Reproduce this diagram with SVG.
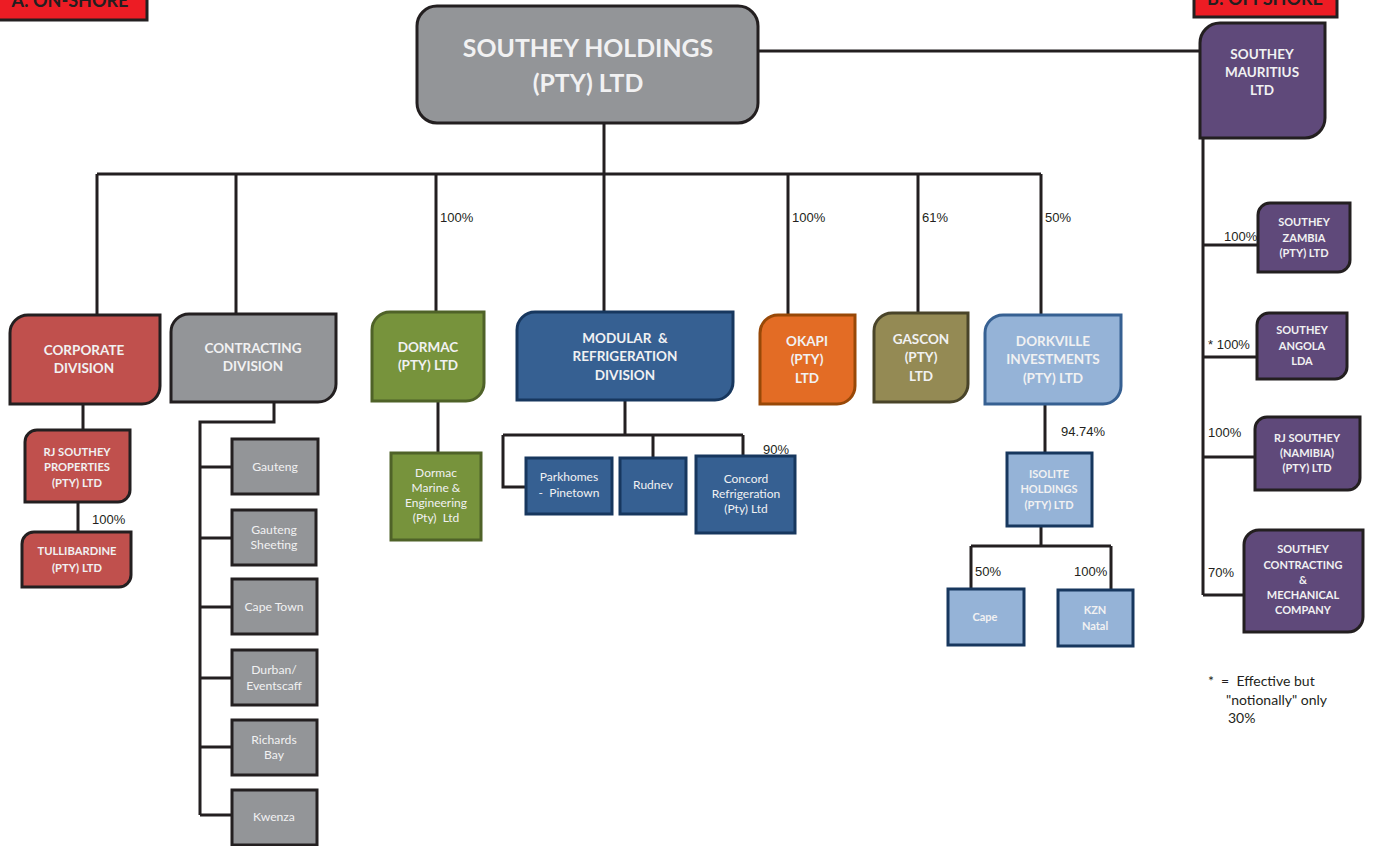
<svg xmlns="http://www.w3.org/2000/svg" width="1375" height="846" viewBox="0 0 1375 846">
<style>
.bg{fill:#ffffff}
.ln{fill:none;stroke:#231f20;stroke-width:3}
.t{font-family:Lato,"Open Sans","Liberation Sans",sans-serif;font-weight:bold;fill:#f1f1f2;text-anchor:middle}
.tr{font-family:Lato,"Open Sans","Liberation Sans",sans-serif;fill:#f1f1f2;text-anchor:middle;white-space:pre}
.p{font-family:"Liberation Sans",Arial,sans-serif;font-size:13px;fill:#231f20}
.f{font-family:Lato,"Open Sans","Liberation Sans",sans-serif;font-size:14px;fill:#231f20}
.lab{font-family:Lato,"Open Sans","Liberation Sans",sans-serif;font-weight:bold;font-size:18px;fill:#231f20;text-anchor:middle}
.gray{fill:#939598;stroke:#231f20;stroke-width:3}
.red{fill:#c0504d;stroke:#231f20;stroke-width:3}
.green{fill:#77933c;stroke:#4f6228;stroke-width:3}
.blue{fill:#366092;stroke:#17375e;stroke-width:3}
.orange{fill:#e36c25;stroke:#984807;stroke-width:3}
.olive{fill:#948a54;stroke:#494429;stroke-width:3}
.lblue{fill:#95b3d7;stroke:#366092;stroke-width:3}
.lblue2{fill:#95b3d7;stroke:#17375e;stroke-width:3}
.purple{fill:#5f497a;stroke:#231f20;stroke-width:3}
.tag{fill:#ed1c24;stroke:#231f20;stroke-width:3}
</style>
<rect class="bg" x="0" y="0" width="1375" height="846"/>

<g id="connectors">
  <path class="ln" d="M604,123 V313"/>
  <path class="ln" d="M97,174 H1041"/>
  <path class="ln" d="M97,174 V315 M236,174 V314 M436,174 V312 M788,174 V315 M918,174 V313 M1041,174 V315"/>
  <path class="ln" d="M758,51 H1200"/>
  <path class="ln" d="M1203,138 V595 M1203,245 H1258 M1203,357 H1257 M1203,457 H1255 M1203,595 H1244"/>
  <path class="ln" d="M83,404 V430 M78,502 V532"/>
  <path class="ln" d="M274,402 V422 H200 V815"/>
  <path class="ln" d="M200,467 H232 M200,538 H232 M200,607 H232 M200,678 H232 M200,747 H232 M200,815 H232"/>
  <path class="ln" d="M438,401 V453"/>
  <path class="ln" d="M625,400 V435 M503,435 H743 M503,435 V487 H527 M653,435 V458 M743,435 V457"/>
  <path class="ln" d="M1045,404 V453 M1041,526 V546 M971,546 H1111 M971,546 V589 M1111,546 V590"/>
</g>

<g id="label-onshore">
  <rect class="tag" x="-5" y="-12" width="152" height="32"/>
  <text class="lab" x="70" y="7">A: ON-SHORE</text>
</g>
<g id="label-offshore">
  <rect class="tag" x="1194" y="-12" width="143" height="29"/>
  <text class="lab" x="1265" y="5">B: OFFSHORE</text>
</g>

<g id="southey-holdings">
  <rect class="gray" x="417" y="6" width="341" height="117" rx="20"/>
  <text class="t" font-size="24.8" x="588" y="57">SOUTHEY HOLDINGS</text>
  <text class="t" font-size="24.8" x="588" y="92">(PTY) LTD</text>
</g>

<g id="southey-mauritius">
  <path class="purple" d="M1200,43 A20,20 0 0 1 1220,23 H1325 V118 A20,20 0 0 1 1305,138 H1200 Z"/>
  <text class="t" font-size="13.5" x="1262" y="59">SOUTHEY</text>
  <text class="t" font-size="13.5" x="1262" y="77">MAURITIUS</text>
  <text class="t" font-size="13.5" x="1262" y="95">LTD</text>
</g>

<g id="corporate-division">
  <path class="red" d="M10,333 A18,18 0 0 1 28,315 H160 V386 A18,18 0 0 1 142,404 H10 Z"/>
  <text class="t" font-size="13.5" x="84" y="355">CORPORATE</text>
  <text class="t" font-size="13.5" x="84" y="373">DIVISION</text>
</g>
<g id="contracting-division">
  <path class="gray" d="M171,332 A18,18 0 0 1 189,314 H336 V384 A18,18 0 0 1 318,402 H171 Z"/>
  <text class="t" font-size="13.5" x="253" y="353">CONTRACTING</text>
  <text class="t" font-size="13.5" x="253" y="371">DIVISION</text>
</g>
<g id="dormac">
  <path class="green" d="M372,330 A18,18 0 0 1 390,312 H484 V383 A18,18 0 0 1 466,401 H372 Z"/>
  <text class="t" font-size="13.5" x="428" y="352">DORMAC</text>
  <text class="t" font-size="13.5" x="428" y="370">(PTY) LTD</text>
</g>
<g id="modular-refrigeration">
  <path class="blue" d="M517,330 A18,18 0 0 1 535,312 H733 V382 A18,18 0 0 1 715,400 H517 Z"/>
  <text class="t" font-size="13.5" x="625" y="343" style="white-space:pre">MODULAR  &amp;</text>
  <text class="t" font-size="13.5" x="625" y="361">REFRIGERATION</text>
  <text class="t" font-size="13.5" x="625" y="380">DIVISION</text>
</g>
<g id="okapi">
  <path class="orange" d="M760,333 A18,18 0 0 1 778,315 H855 V386 A18,18 0 0 1 837,404 H760 Z"/>
  <text class="t" font-size="13.5" x="807" y="346">OKAPI</text>
  <text class="t" font-size="13.5" x="807" y="364">(PTY)</text>
  <text class="t" font-size="13.5" x="807" y="383">LTD</text>
</g>
<g id="gascon">
  <path class="olive" d="M874,331 A18,18 0 0 1 892,313 H968 V384 A18,18 0 0 1 950,402 H874 Z"/>
  <text class="t" font-size="13.5" x="921" y="344">GASCON</text>
  <text class="t" font-size="13.5" x="921" y="362">(PTY)</text>
  <text class="t" font-size="13.5" x="921" y="381">LTD</text>
</g>
<g id="dorkville">
  <path class="lblue" d="M985,333 A18,18 0 0 1 1003,315 H1121 V386 A18,18 0 0 1 1103,404 H985 Z"/>
  <text class="t" font-size="13.5" x="1053" y="346">DORKVILLE</text>
  <text class="t" font-size="13.5" x="1053" y="364">INVESTMENTS</text>
  <text class="t" font-size="13.5" x="1053" y="383">(PTY) LTD</text>
</g>

<g id="rj-southey-properties">
  <path class="red" d="M25,442 A12,12 0 0 1 37,430 H130 V490 A12,12 0 0 1 118,502 H25 Z"/>
  <text class="t" font-size="11.2" x="77" y="456">RJ SOUTHEY</text>
  <text class="t" font-size="11.2" x="77" y="471">PROPERTIES</text>
  <text class="t" font-size="11.2" x="77" y="487">(PTY) LTD</text>
</g>
<g id="tullibardine">
  <path class="red" d="M22,544 A12,12 0 0 1 34,532 H131 V575 A12,12 0 0 1 119,587 H22 Z"/>
  <text class="t" font-size="11.2" x="77" y="555">TULLIBARDINE</text>
  <text class="t" font-size="11.2" x="77" y="572">(PTY) LTD</text>
</g>

<g id="gauteng"><rect class="gray" x="232" y="439" width="86" height="55"/><text class="tr" font-size="12.2" x="275" y="471">Gauteng</text></g>
<g id="gauteng-sheeting"><rect class="gray" x="232" y="510" width="84" height="55"/><text class="tr" font-size="12.2" x="274" y="534">Gauteng</text><text class="tr" font-size="12.2" x="274" y="549">Sheeting</text></g>
<g id="cape-town"><rect class="gray" x="232" y="579" width="85" height="55"/><text class="tr" font-size="12.2" x="274" y="611">Cape Town</text></g>
<g id="durban"><rect class="gray" x="232" y="650" width="85" height="55"/><text class="tr" font-size="12.2" x="274" y="674">Durban/</text><text class="tr" font-size="12.2" x="274" y="690">Eventscaff</text></g>
<g id="richards-bay"><rect class="gray" x="232" y="720" width="85" height="55"/><text class="tr" font-size="12.2" x="274" y="744">Richards</text><text class="tr" font-size="12.2" x="274" y="759">Bay</text></g>
<g id="kwenza"><rect class="gray" x="232" y="790" width="85" height="55"/><text class="tr" font-size="12.2" x="274" y="821">Kwenza</text></g>

<g id="dormac-marine"><rect class="green" x="391" y="453" width="90" height="87"/>
  <text class="tr" font-size="12" x="436" y="477">Dormac</text>
  <text class="tr" font-size="12" x="436" y="492">Marine &amp;</text>
  <text class="tr" font-size="12" x="436" y="507">Engineering</text>
  <text class="tr" font-size="12" x="436" y="522">(Pty)  Ltd</text>
</g>

<g id="parkhomes"><rect class="blue" x="526" y="458" width="86" height="56"/>
  <text class="tr" font-size="12" x="569" y="481">Parkhomes</text>
  <text class="tr" font-size="12" x="569" y="497">-  Pinetown</text>
</g>
<g id="rudnev"><rect class="blue" x="620" y="458" width="66" height="56"/>
  <text class="tr" font-size="12" x="653" y="489">Rudnev</text>
</g>
<g id="concord"><rect class="blue" x="696" y="456" width="99" height="77"/>
  <text class="tr" font-size="12" x="746" y="483">Concord</text>
  <text class="tr" font-size="12" x="746" y="498">Refrigeration</text>
  <text class="tr" font-size="12" x="746" y="513">(Pty) Ltd</text>
</g>

<g id="isolite"><rect class="lblue2" x="1007" y="453" width="85" height="73"/>
  <text class="t" font-size="11" x="1049" y="478">ISOLITE</text>
  <text class="t" font-size="11" x="1049" y="493">HOLDINGS</text>
  <text class="t" font-size="11" x="1049" y="509">(PTY) LTD</text>
</g>
<g id="cape"><rect class="lblue2" x="948" y="589" width="76" height="56"/>
  <text class="t" font-size="11" x="985" y="621">Cape</text>
</g>
<g id="kzn-natal"><rect class="lblue2" x="1058" y="590" width="75" height="56"/>
  <text class="t" font-size="11" x="1095" y="614">KZN</text>
  <text class="t" font-size="11" x="1095" y="630">Natal</text>
</g>

<g id="southey-zambia">
  <path class="purple" d="M1258,215 A12,12 0 0 1 1270,203 H1350 V260 A12,12 0 0 1 1338,272 H1258 Z"/>
  <text class="t" font-size="11" x="1304" y="226">SOUTHEY</text>
  <text class="t" font-size="11" x="1304" y="242">ZAMBIA</text>
  <text class="t" font-size="11" x="1304" y="257">(PTY) LTD</text>
</g>
<g id="southey-angola">
  <path class="purple" d="M1257,325 A12,12 0 0 1 1269,313 H1347 V367 A12,12 0 0 1 1335,379 H1257 Z"/>
  <text class="t" font-size="11" x="1302" y="334">SOUTHEY</text>
  <text class="t" font-size="11" x="1302" y="350">ANGOLA</text>
  <text class="t" font-size="11" x="1302" y="365">LDA</text>
</g>
<g id="rj-southey-namibia">
  <path class="purple" d="M1255,429 A12,12 0 0 1 1267,417 H1360 V478 A12,12 0 0 1 1348,490 H1255 Z"/>
  <text class="t" font-size="11" x="1307" y="442">RJ SOUTHEY</text>
  <text class="t" font-size="11" x="1307" y="457">(NAMIBIA)</text>
  <text class="t" font-size="11" x="1307" y="472">(PTY) LTD</text>
</g>
<g id="southey-contracting-mechanical">
  <path class="purple" d="M1244,545 A15,15 0 0 1 1259,530 H1363 V617 A15,15 0 0 1 1348,632 H1244 Z"/>
  <text class="t" font-size="11" x="1303" y="553">SOUTHEY</text>
  <text class="t" font-size="11" x="1303" y="569">CONTRACTING</text>
  <text class="t" font-size="11" x="1303" y="584">&amp;</text>
  <text class="t" font-size="11" x="1303" y="599">MECHANICAL</text>
  <text class="t" font-size="11" x="1303" y="614">COMPANY</text>
</g>

<g id="labels">
  <text class="p" x="440" y="222">100%</text>
  <text class="p" x="792" y="222">100%</text>
  <text class="p" x="922" y="222">61%</text>
  <text class="p" x="1045" y="222">50%</text>
  <text class="p" x="92" y="524">100%</text>
  <text class="p" x="763" y="454">90%</text>
  <text class="p" x="1061" y="436">94.74%</text>
  <text class="p" x="975" y="576">50%</text>
  <text class="p" x="1074" y="576">100%</text>
  <text class="p" x="1224" y="241">100%</text>
  <text class="p" x="1208" y="349">* 100%</text>
  <text class="p" x="1208" y="437">100%</text>
  <text class="p" x="1208" y="577">70%</text>
  <text class="f" x="1208" y="686" style="white-space:pre">*  =  Effective but</text>
  <text class="f" x="1226" y="705">"notionally" only</text>
  <text class="f" x="1228" y="723">30%</text>
</g>
</svg>
